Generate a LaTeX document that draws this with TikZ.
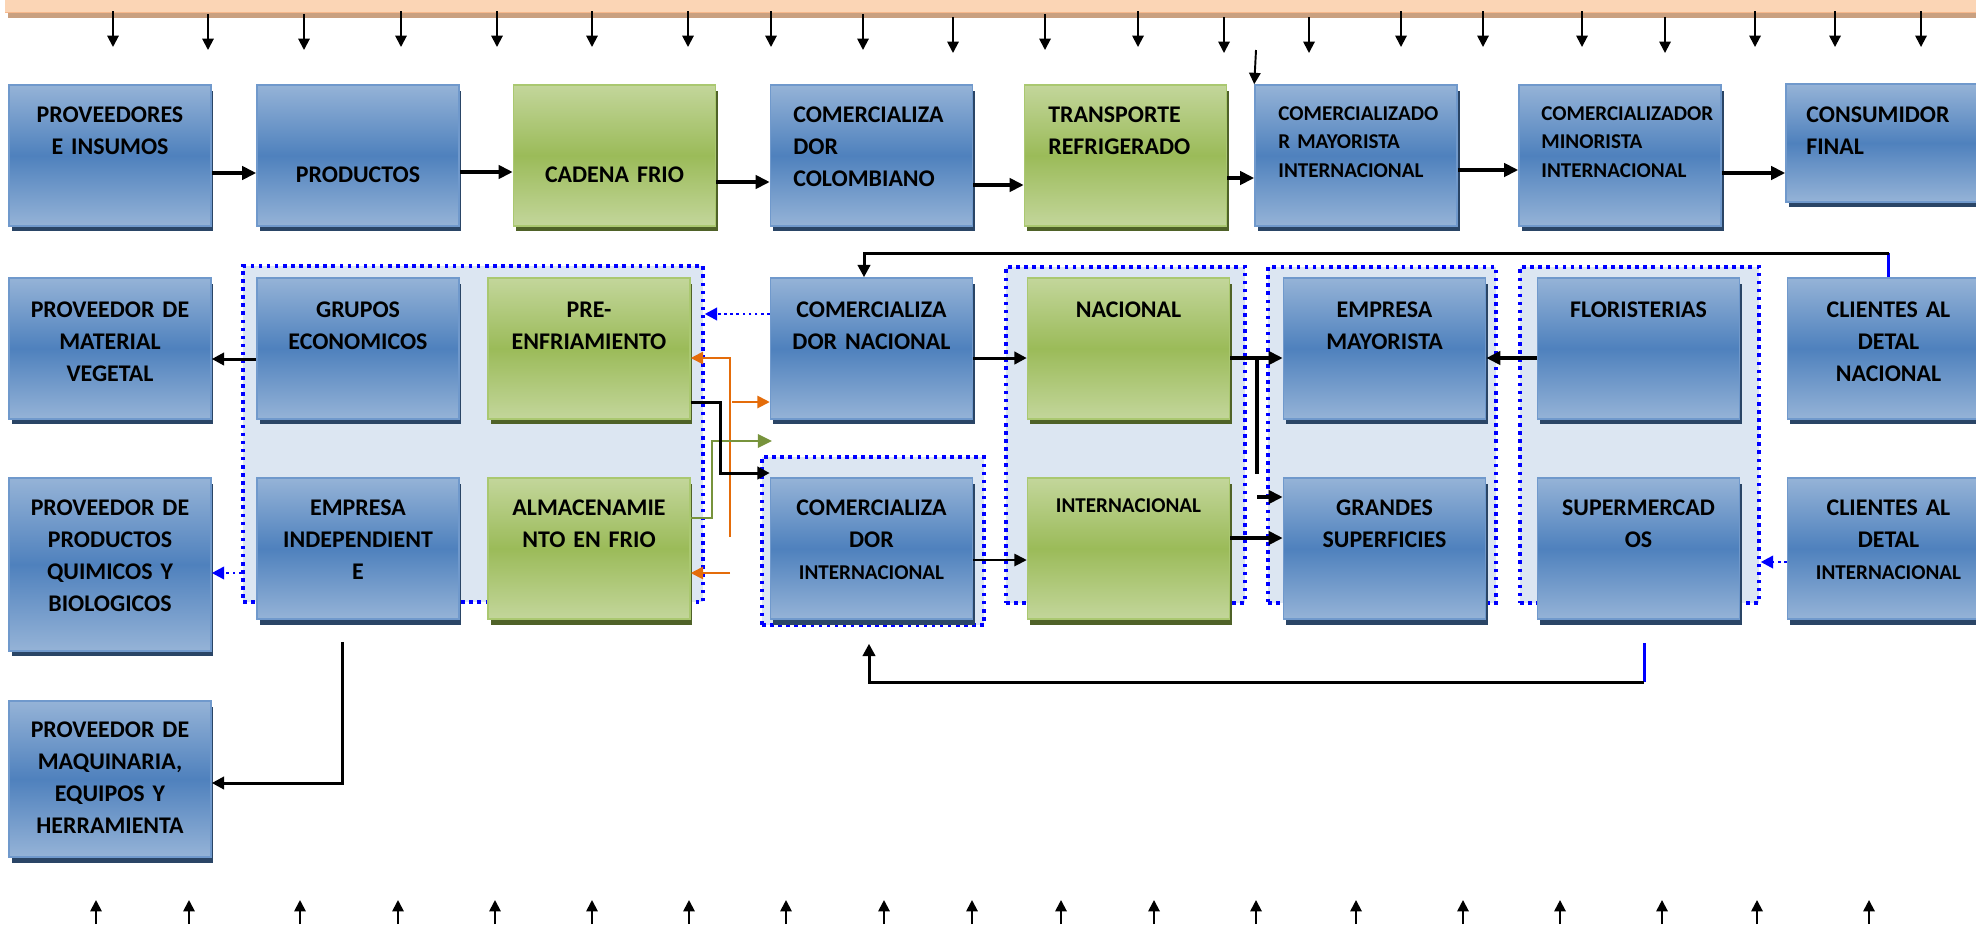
\documentclass[tikz,border=0pt]{standalone}
\usepackage{fontspec}
\setmainfont{Carlito}
\usetikzlibrary{arrows.meta,shadows}

\definecolor{azulclaro}{HTML}{95B3D7}
\definecolor{azul}{HTML}{4F81BD}
\definecolor{bordeazul}{HTML}{7099CC}
\definecolor{sombraazul}{HTML}{2A4566}
\definecolor{verdeclaro}{HTML}{C3D69B}
\definecolor{verde}{HTML}{9BBB59}
\definecolor{bordeverde}{HTML}{AAC870}
\definecolor{sombraverde}{HTML}{4F6228}
\definecolor{fondogrupo}{HTML}{DCE6F2}
\definecolor{naranja}{HTML}{E46C0A}
\definecolor{oliva}{HTML}{77933C}
\definecolor{franja}{HTML}{FBD5B5}
\definecolor{bordefranja}{HTML}{F6B88C}
\definecolor{sombrafranja}{HTML}{C9A080}

\newcommand{\letrachica}{\fontsize{12}{18.3}\selectfont}

\tikzset{
  cajabase/.style={line width=0.9pt, inner sep=0pt, minimum width=4.04cm, minimum height=2.82cm},
  caja/.style={cajabase, draw=bordeazul, top color=azulclaro, bottom color=azulclaro, middle color=azul,
    drop shadow={shadow xshift=0.05cm, shadow yshift=-0.11cm, fill=sombraazul, opacity=1}},
  cajaverde/.style={cajabase, draw=bordeverde, top color=verdeclaro, bottom color=verdeclaro, middle color=verde,
    drop shadow={shadow xshift=0.05cm, shadow yshift=-0.11cm, fill=sombraverde, opacity=1}},
  grupo/.style={fill=fondogrupo, draw=blue, line width=2pt, dash pattern=on 2pt off 2.6pt, inner sep=0pt},
  texto/.style={font=\bfseries\fontsize{13.6}{18.3}\selectfont, inner sep=0pt, text width=4cm, align=center, anchor=base},
  textoizq/.style={texto, align=left, anchor=base west},
  chico/.style={font=\bfseries\fontsize{12}{16.5}\selectfont},
  flecha/.style={line width=2.2pt, -{Triangle[length=8pt,width=7.5pt]}},
  conector/.style={line width=1.7pt, -{Triangle[length=7pt,width=7pt]}},
  linea/.style={line width=1.7pt},
  punteado/.style={blue, line width=1.5pt, dash pattern=on 1.5pt off 2pt, -{Triangle[length=7pt,width=7pt]}},
  naranjaf/.style={naranja, line width=1.1pt, -{Triangle[length=7pt,width=7pt]}},
  verdef/.style={oliva, line width=1.6pt, -{Triangle[length=8pt,width=7.5pt]}},
  flechita/.style={line width=1.1pt, -{Triangle[length=6.5pt,width=6.5pt]}}
}

\begin{document}
\begin{tikzpicture}[x=0.02cm, y=-0.02cm]
  \useasboundingbox (0,0) rectangle (1976,924);

  % Top band and the arrows hanging from it
  \fill[sombrafranja] (8,12) rectangle (1976,18);
  \fill[franja] (5,0) rectangle (1976,13);
  \draw[bordefranja, line width=1pt] (5,12.5) -- (1976,12.5);
  \foreach \x/\y in {113/11, 208/14, 304/14, 401/11, 497/11, 592/11, 688/11, 771/11, 863/14, 953/17, 1045/14,
                     1138/11, 1224/17, 1309/17, 1401/11, 1483/11, 1582/11, 1665/17, 1755/11, 1835/11, 1921/11}
    \draw[flechita] (\x,\y) -- (\x,{\y+36});

  % Bottom arrows
  \foreach \x in {96, 189, 300, 398, 495, 592, 689, 786, 884, 972, 1061, 1154, 1256, 1356, 1463, 1560, 1662, 1757, 1869}
    \draw[flechita] (\x,924) -- (\x,900);

  % Dotted groups
  \node[grupo, minimum width=9.2cm, minimum height=6.72cm] (gA) at (473,434) {};
  \node[grupo, minimum width=4.44cm, minimum height=3.36cm] (gB) at (873,541) {};
  \node[grupo, minimum width=4.78cm, minimum height=6.72cm] (gC) at (1125.5,435) {};
  \node[grupo, minimum width=4.56cm, minimum height=6.72cm] (gD) at (1382,435) {};
  \node[grupo, minimum width=4.78cm, minimum height=6.72cm] (gE) at (1639.5,435) {};

  % First row: the chain
  \node[caja] (pin) at (110,155.5) {};
  \node[caja] (prod) at (358,155.5) {};
  \node[cajaverde] (cad) at (614.5,155.5) {};
  \node[caja] (ccol) at (871.5,155.5) {};
  \node[cajaverde] (trans) at (1125.5,155.5) {};
  \node[caja] (cmay) at (1356,155.5) {};
  \node[caja] (cmin) at (1620,155.5) {};
  \node[caja, minimum height=2.36cm] (cons) at (1887,143) {};

  % Second row
  \node[caja] (pmv) at (110,348.5) {};
  \node[caja] (grup) at (358,348.5) {};
  \node[cajaverde] (pre) at (589,348.5) {};
  \node[caja] (cnac) at (871.5,348.5) {};
  \node[cajaverde] (nac) at (1128.5,348.5) {};
  \node[caja] (emay) at (1384.5,348.5) {};
  \node[caja] (flor) at (1638.5,348.5) {};
  \node[caja] (cdn) at (1888.5,348.5) {};

  % Third row
  \node[caja, minimum height=3.46cm] (pqb) at (110,564.5) {};
  \node[caja] (eind) at (358,548.5) {};
  \node[cajaverde] (alm) at (589,548.5) {};
  \node[caja] (cint) at (871.5,548.5) {};
  \node[cajaverde] (inter) at (1128.5,548.5) {};
  \node[caja] (gsup) at (1384.5,548.5) {};
  \node[caja] (super) at (1638.5,548.5) {};
  \node[caja] (cdi) at (1888.5,548.5) {};

  % Fourth row
  \node[caja, minimum height=3.12cm] (pmaq) at (110,779) {};

  % Labels
  \node[texto] (t-pin) at (110,122) {PROVEEDORES\\E INSUMOS};
  \node[texto] (t-prod) at (358,182) {PRODUCTOS};
  \node[texto] (t-cad) at (614.5,182) {CADENA FRIO};
  \node[textoizq] (t-ccol) at (793,122) {COMERCIALIZA\\DOR\\COLOMBIANO};
  \node[textoizq] (t-trans) at (1048,122) {TRANSPORTE\\REFRIGERADO};
  \node[textoizq, chico] (t-cmay) at (1278,120) {COMERCIALIZADO\\R MAYORISTA\\INTERNACIONAL};
  \node[textoizq, chico] (t-cmin) at (1541,120) {COMERCIALIZADOR\\MINORISTA\\INTERNACIONAL};
  \node[textoizq] (t-cons) at (1806,122) {CONSUMIDOR\\FINAL};

  \node[texto] (t-pmv) at (110,317) {PROVEEDOR DE\\MATERIAL\\VEGETAL};
  \node[texto] (t-grup) at (358,317) {GRUPOS\\ECONOMICOS};
  \node[texto] (t-pre) at (589,317) {PRE-\\ENFRIAMIENTO};
  \node[texto] (t-cnac) at (871.5,317) {COMERCIALIZA\\DOR NACIONAL};
  \node[texto] (t-nac) at (1128.5,317) {NACIONAL};
  \node[texto] (t-emay) at (1384.5,317) {EMPRESA\\MAYORISTA};
  \node[texto] (t-flor) at (1638.5,317) {FLORISTERIAS};
  \node[texto] (t-cdn) at (1888.5,317) {CLIENTES AL\\DETAL\\NACIONAL};

  \node[texto] (t-pqb) at (110,515) {PROVEEDOR DE\\PRODUCTOS\\QUIMICOS Y\\BIOLOGICOS};
  \node[texto] (t-eind) at (358,515) {EMPRESA\\INDEPENDIENT\\E};
  \node[texto] (t-alm) at (589,515) {ALMACENAMIE\\NTO EN FRIO};
  \node[texto] (t-cint) at (871.5,515) {COMERCIALIZA\\DOR\\{\letrachica INTERNACIONAL}};
  \node[texto, chico] (t-inter) at (1128.5,512) {INTERNACIONAL};
  \node[texto] (t-gsup) at (1384.5,515) {GRANDES\\SUPERFICIES};
  \node[texto] (t-super) at (1638.5,515) {SUPERMERCAD\\OS};
  \node[texto] (t-cdi) at (1888.5,515) {CLIENTES AL\\DETAL\\{\letrachica INTERNACIONAL}};

  \node[texto] (t-pmaq) at (110,737) {PROVEEDOR DE\\MAQUINARIA,\\EQUIPOS Y\\HERRAMIENTA};

  % Chain arrows
  \draw[flecha] (pin.east |- 0,173) -- (prod.west |- 0,173);
  \draw[flecha] (prod.east |- 0,172) -- (cad.west |- 0,172);
  \draw[flecha] (cad.east |- 0,182) -- (ccol.west |- 0,182);
  \draw[flecha] (ccol.east |- 0,185) -- (trans.west |- 0,185);
  \draw[flecha] (trans.east |- 0,178) -- (cmay.west |- 0,178);
  \draw[flecha] (cmay.east |- 0,170) -- (cmin.west |- 0,170);
  \draw[flecha] (cmin.east |- 0,173) -- (cons.west |- 0,173);
  \draw[flechita] (1256,50) -- (cmay.north west);

  % Suppliers
  \draw[conector] (grup.west |- 0,359) -- (pmv.east |- 0,359);
  \draw[punteado] (gA.west |- 0,573) -- (pqb.east |- 0,573);
  \draw[conector] ([xshift=-0.32cm, yshift=-0.44cm]eind.south) |- (pmaq.east |- 0,783);

  % Cold chain links
  \draw[punteado] (cnac.west |- 0,314) -- (gA.east |- 0,314);
  \coordinate (o-arriba) at (730,358);
  \coordinate (o-abajo) at (730,537);
  \coordinate (o-medio) at (732,402);
  \coordinate (o-bajo) at (730,573);
  \draw[naranjaf] (o-abajo) -- (o-arriba) -- (pre.east |- o-arriba);
  \draw[naranjaf] (o-medio) -- (cnac.west |- o-medio);
  \draw[naranjaf] (o-bajo) -- (alm.east |- o-bajo);
  \coordinate (v-fin) at (772,441);
  \draw[verdef] (alm.east |- 0,518) -| (712,441) -- (v-fin);
  \draw[conector] (pre.east |- 0,402) -| (720,473) -- (cint.west |- 0,473);

  % Markets
  \draw[conector] (cnac.east |- 0,358) -- (nac.west |- 0,358);
  \draw[conector, line width=1.1pt] (cint.east |- 0,560) -- (inter.west |- 0,560);
  \draw[flecha] (nac.east |- 0,358) -- (emay.west |- 0,358);
  \coordinate (m-arriba) at (1257,358);
  \coordinate (m-abajo) at (1257,474);
  \coordinate (m-corto) at (1257,497);
  \draw[linea, line width=2.2pt] (m-arriba) -- (m-abajo);
  \draw[flecha] (m-corto) -- (gsup.west |- m-corto);
  \draw[flecha] (inter.east |- 0,538) -- (gsup.west |- 0,538);
  \draw[flecha] (flor.west |- 0,358) -- (emay.east |- 0,358);
  \draw[punteado] (cdi.west |- 0,562) -- (gE.east |- 0,562);

  % Return loops
  \draw[linea, blue] (cdn.north) -- (cdn.north |- 0,253);
  \draw[conector] (cdn.north |- 0,253) -| ([xshift=-0.15cm]cnac.north);
  \coordinate (s-arriba) at (1644,643);
  \coordinate (s-abajo) at (1644,682);
  \draw[linea, blue] (s-arriba) -- (s-abajo);
  \draw[conector] (s-abajo) -| ([xshift=-0.08cm, yshift=-0.34cm]gB.south);
\end{tikzpicture}
\end{document}
